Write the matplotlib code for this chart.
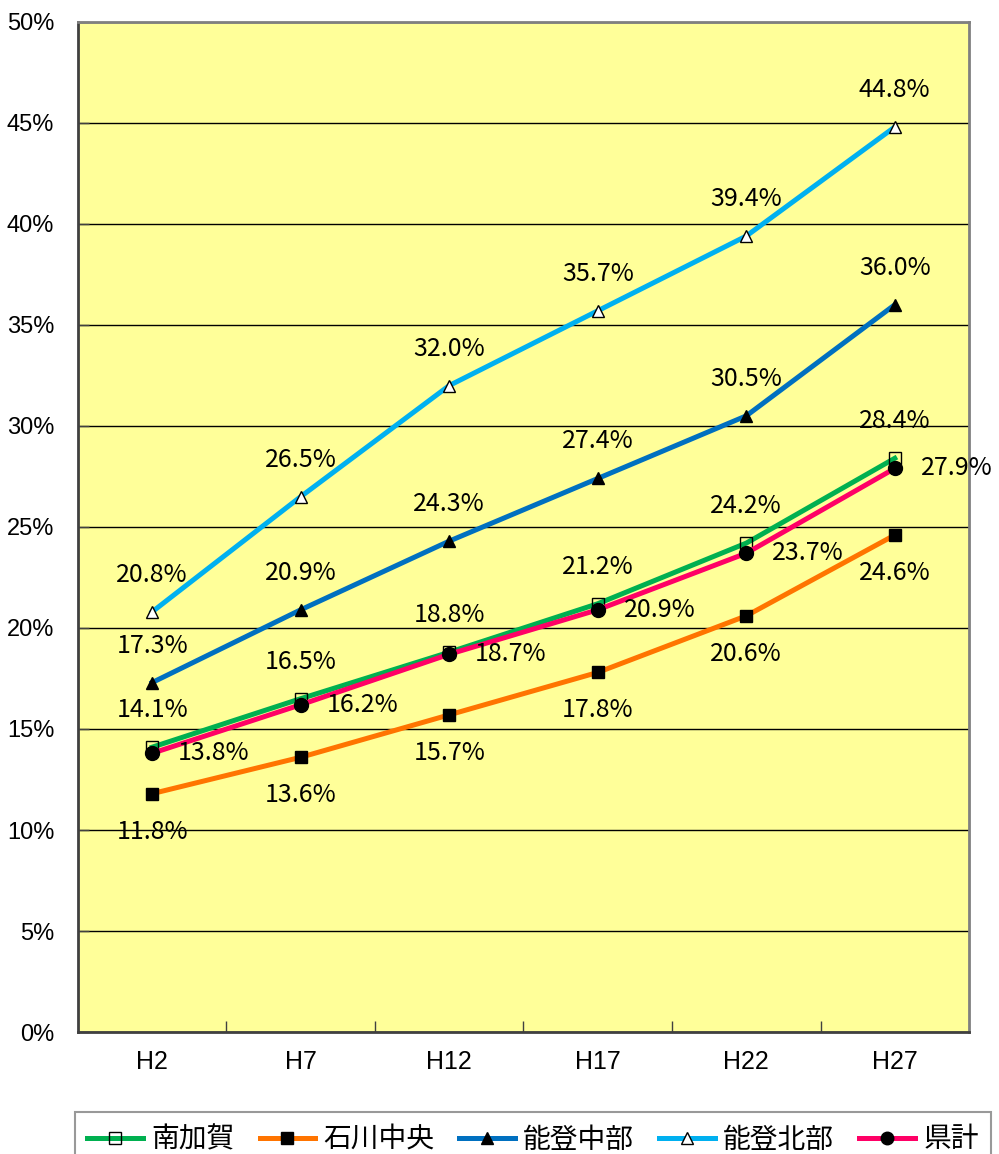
import matplotlib
matplotlib.use("Agg")
import matplotlib.pyplot as plt
from matplotlib.ticker import FixedLocator, PercentFormatter

# --- DATA ---
years = ["H2", "H7", "H12", "H17", "H22", "H27"]
minami_kaga = [14.1, 16.5, 18.8, 21.2, 24.2, 28.4]
ishikawa_chuo = [11.8, 13.6, 15.7, 17.8, 20.6, 24.6]
noto_chubu = [17.3, 20.9, 24.3, 27.4, 30.5, 36.0]
noto_hokubu = [20.8, 26.5, 32.0, 35.7, 39.4, 44.8]
ken_kei = [13.8, 16.2, 18.7, 20.9, 23.7, 27.9]

names = ["南加賀", "石川中央", "能登中部", "能登北部", "県計"]

# --- STYLE ---
JP = ["Noto Sans CJK JP", "DejaVu Sans"]
TICK_FONT = "Liberation Sans"

series = [
    # values, colour, marker, face, label offset (px)
    (minami_kaga, "#00B050", "s", "none", (0, 37)),
    (ishikawa_chuo, "#FF7400", "s", "black", (0, -38)),
    (noto_chubu, "#0070C0", "^", "black", (0, 37)),
    (noto_hokubu, "#00B0F0", "^", "white", (0, 37)),
    (ken_kei, "#FF0066", "o", "black", (26, 0)),
]

fig = plt.figure(figsize=(9.99, 11.54), dpi=100)
ax = fig.add_axes([0.078, 0.1057, 0.892, 0.8753])
ax.set_facecolor("#FFFF99")

x = list(range(len(years)))
handles = []
for (vals, col, mk, face, off), name in zip(series, names):
    h, = ax.plot(x, vals, color=col, lw=3.6, marker=mk, ms=9 if mk != "o" else 10,
                 mfc=face, mec="black", mew=1.0, label=name, zorder=3)
    handles.append(h)
    for xi, v in zip(x, vals):
        ha = "left" if off[0] > 0 else "center"
        ax.annotate(f"{v:.1f}%", (xi, v), xytext=off, textcoords="offset pixels",
                    ha=ha, va="center", fontsize=18, family=JP, zorder=5,
                    annotation_clip=False)

ax.set_xlim(-0.5, 5.5)
ax.set_ylim(0, 50)
ax.set_xticks(x)
ax.set_xticklabels(years)
ax.xaxis.set_minor_locator(FixedLocator([i + 0.5 for i in range(5)]))
ax.tick_params(axis="x", which="major", length=0, pad=13)
ax.tick_params(axis="x", which="minor", direction="in", length=8, width=1, color="#404040")
ax.set_yticks(range(0, 51, 5))
ax.yaxis.set_major_formatter(PercentFormatter(decimals=0))
ax.tick_params(axis="y", direction="in", length=8, width=1, color="#404040", pad=17)
for lab in ax.get_xticklabels():
    lab.set_family(TICK_FONT)
    lab.set_fontsize(18)
for lab in ax.get_yticklabels():
    lab.set_family(TICK_FONT)
    lab.set_fontsize(17)

ax.grid(axis="y", color="black", lw=1.0)
ax.set_axisbelow(True)
for side in ("left", "bottom"):
    ax.spines[side].set_color("#404040")
    ax.spines[side].set_linewidth(2)
for side in ("top", "right"):
    ax.spines[side].set_color("#808080")
    ax.spines[side].set_linewidth(2)

leg = fig.legend(handles=handles, loc="upper left", bbox_to_anchor=(0.075, 0.0364),
                 ncol=5, frameon=True, fancybox=False, prop={"family": JP, "size": 20},
                 handlelength=2.0, columnspacing=0.9, handletextpad=0.3,
                 borderaxespad=0, borderpad=0.45, markerscale=0.9)
leg.get_frame().set_edgecolor("#808080")
leg.get_frame().set_linewidth(1.5)

fig.savefig("out.png", dpi=100, facecolor="white")
